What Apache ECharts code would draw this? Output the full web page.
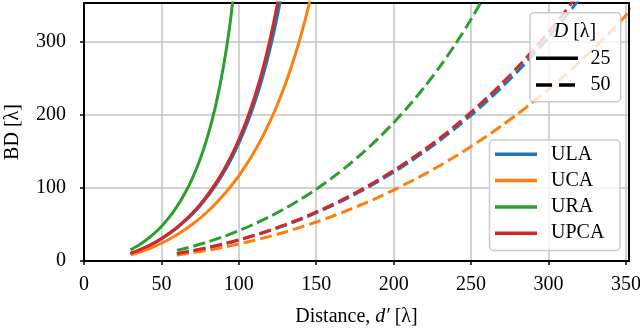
<!DOCTYPE html>
<html>
<head>
<meta charset="utf-8">
<script src="https://cdn.jsdelivr.net/npm/echarts@6/dist/echarts.min.js"></script>
<style>
  html, body { margin: 0; padding: 0; background: #fff; }
  #chart { width: 640px; height: 329px; }
</style>
</head>
<body>
<div id="chart"></div>
<script>
// distances d' [lambda]
var distSolid = [30, 35, 40, 45, 50, 55, 60, 65, 70, 75, 80, 85, 90, 95, 100, 105, 110, 115, 120, 125, 130, 135, 140, 145, 150];
var distDashed = [60, 70, 80, 90, 100, 110, 120, 130, 140, 150, 160, 170, 180, 190, 200, 210, 220, 230, 240, 250, 260, 270, 280, 290, 300, 310, 320, 330, 340, 350, 360];

// BD [lambda], D = 25
var ulaSolid = [10.3, 14.2, 18.7, 24.0, 30.1, 37.1, 45.1, 54.1, 64.2, 75.7, 88.8, 103.5, 120.2, 139.3, 161.1, 186.1, 215.1, 249.0, 288.8, 336.4, 393.9];
var ucaSolid = [8.4, 11.6, 15.2, 19.5, 24.3, 29.7, 35.8, 42.7, 50.3, 58.7, 68.1, 78.4, 89.9, 102.6, 116.6, 132.2, 149.5, 168.8, 190.4, 214.5, 241.8, 272.6, 307.7, 348.0, 394.6];
var uraSolid = [15.2, 21.1, 28.4, 37.0, 47.3, 59.6, 74.3, 91.9, 113.2, 139.2, 171.5, 212.3, 265.1, 335.8, 435.0];
var upcaSolid = [10.5, 14.4, 19.1, 24.5, 30.7, 37.9, 46.0, 55.2, 65.7, 77.5, 91.0, 106.2, 123.6, 143.4, 166.2, 192.5, 223.0, 259.0, 301.6, 352.8, 415.4];

// BD [lambda], D = 50
var ulaDashed = [10.1, 13.8, 18.1, 23.0, 28.6, 34.7, 41.5, 48.9, 57.1, 65.9, 75.4, 85.8, 96.8, 108.7, 121.5, 135.1, 149.7, 165.2, 181.7, 199.4, 218.1, 238.1, 259.3, 281.8, 305.8, 331.4, 358.6];
var ucaDashed = [8.3, 11.3, 14.8, 18.8, 23.3, 28.3, 33.7, 39.7, 46.3, 53.3, 60.9, 69.1, 77.8, 87.1, 97.1, 107.7, 118.9, 130.7, 143.3, 156.6, 170.6, 185.4, 201.1, 217.5, 234.8, 253.0, 272.2, 292.4, 313.7, 336.0, 359.5];
var uraDashed = [14.5, 19.9, 26.1, 33.3, 41.5, 50.6, 60.8, 72.1, 84.6, 98.3, 113.4, 129.9, 148.0, 167.7, 189.2, 212.7, 238.4, 266.4, 297.1, 330.7, 367.5];
var upcaDashed = [10.3, 14.1, 18.4, 23.4, 29.0, 35.3, 42.2, 49.8, 58.1, 67.1, 76.8, 87.3, 98.6, 110.8, 123.8, 137.8, 152.6, 168.5, 185.5, 203.6, 222.8, 243.3, 265.1, 288.3, 313.1, 339.4, 367.5];

var xTicks = [0, 50, 100, 150, 200, 250, 300, 350];
var yTicks = [0, 100, 200, 300];

var arrays = ['ULA', 'UCA', 'URA', 'UPCA'];
var colors = ['#1f77b4', '#ff7f0e', '#2ca02c', '#d62728'];
var solidData = [ulaSolid, ucaSolid, uraSolid, upcaSolid];
var dashedData = [ulaDashed, ucaDashed, uraDashed, upcaDashed];

var FONT = '"Liberation Serif", "DejaVu Serif", serif';
var DASH = [12, 5];

function pairs(xs, ys) {
    return ys.map(function (y, i) { return [xs[i], y]; });
}

var series = [];
arrays.forEach(function (name, k) {
    series.push({
        name: name, type: 'line', showSymbol: false, smooth: 0.3,
        data: pairs(distSolid, solidData[k]),
        lineStyle: { color: colors[k], width: 3 },
        z: 2 + k
    });
    series.push({
        name: name, type: 'line', showSymbol: false, smooth: 0.3,
        data: pairs(distDashed, dashedData[k]),
        lineStyle: { color: colors[k], width: 3, type: DASH },
        z: 2 + k
    });
});

var axisText = { color: '#000', fontFamily: FONT, fontSize: 20 };

// legends drawn by hand (two boxes like the original)
var graphics = [];
var lx = 489.5, ly = 140;
graphics.push({
    type: 'rect', z: 100,
    shape: { x: lx, y: ly, width: 130.5, height: 110.5, r: 4 },
    style: { fill: 'rgba(255,255,255,0.8)', stroke: '#cccccc', lineWidth: 1.5 }
});
arrays.forEach(function (name, k) {
    var yy = 154.3 + k * 26.3;
    graphics.push({
        type: 'line', z: 101,
        shape: { x1: 495, y1: yy, x2: 537, y2: yy },
        style: { stroke: colors[k], lineWidth: 3.5 }
    });
    graphics.push({
        type: 'text', z: 101, x: 551, y: yy,
        style: { text: name, fill: '#000', font: '20px ' + FONT, verticalAlign: 'middle' }
    });
});

graphics.push({
    type: 'rect', z: 100,
    shape: { x: 530, y: 12.7, width: 90.7, height: 89, r: 4 },
    style: { fill: 'rgba(255,255,255,0.8)', stroke: '#cccccc', lineWidth: 1.5 }
});
graphics.push({
    type: 'text', z: 101, x: 575, y: 32,
    style: {
        text: '{i|D} [λ]', fill: '#000', font: '20px ' + FONT,
        align: 'center', verticalAlign: 'middle',
        rich: { i: { fontStyle: 'italic', fontFamily: FONT, fontSize: 20 } }
    }
});
[['25', null, 58.3], ['50', [16, 7], 85]].forEach(function (e) {
    graphics.push({
        type: 'line', z: 101,
        shape: { x1: 536, y1: e[2], x2: 578, y2: e[2] },
        style: { stroke: '#000', lineWidth: 3.5, lineDash: e[1] }
    });
    graphics.push({
        type: 'text', z: 101, x: 590.5, y: e[2],
        style: { text: e[0], fill: '#000', font: '20px ' + FONT, verticalAlign: 'middle' }
    });
});

var chart = echarts.init(document.getElementById('chart'), null, { renderer: 'canvas' });
chart.setOption({
    animation: false,
    backgroundColor: '#fff',
    grid: { left: 84, right: 11, top: 3, bottom: 68, containLabel: false, outerBoundsMode: 'none' },
    xAxis: [{
        type: 'value', min: 0, max: 352, interval: 50,
        name: '{a|Distance, }{i|d′}{a| [λ]}',
        nameLocation: 'middle', nameGap: 46,
        nameTextStyle: {
            rich: {
                a: { fontFamily: FONT, fontSize: 20, color: '#000' },
                i: { fontFamily: FONT, fontSize: 20, color: '#000', fontStyle: 'italic' }
            }
        },
        axisLine: { show: true, lineStyle: { color: '#000', width: 2 } },
        axisTick: { show: true, inside: false, length: 4, lineStyle: { color: '#000', width: 1.5 }, customValues: xTicks },
        axisLabel: Object.assign({ margin: 14, customValues: xTicks }, axisText),
        splitLine: { show: true, lineStyle: { color: '#c4c4c4', width: 1.5 } }
    }, {
        type: 'value', min: 0, max: 352, position: 'top',
        axisLine: { show: true, onZero: false, lineStyle: { color: '#000', width: 2 } },
        axisTick: { show: false }, axisLabel: { show: false }, splitLine: { show: false }
    }],
    yAxis: [{
        type: 'value', min: 0, max: 353, interval: 100,
        name: 'BD [λ]', nameLocation: 'middle', nameGap: 61,
        nameTextStyle: { fontFamily: FONT, fontSize: 20, color: '#000' },
        axisLine: { show: true, lineStyle: { color: '#000', width: 2 } },
        axisTick: { show: true, inside: false, length: 4, lineStyle: { color: '#000', width: 1.5 }, customValues: yTicks },
        axisLabel: Object.assign({ margin: 18, customValues: yTicks }, axisText),
        splitLine: { show: true, lineStyle: { color: '#c4c4c4', width: 1.5 } }
    }, {
        type: 'value', min: 0, max: 353, position: 'right',
        axisLine: { show: true, onZero: false, lineStyle: { color: '#000', width: 2 } },
        axisTick: { show: false }, axisLabel: { show: false }, splitLine: { show: false }
    }],
    series: series,
    graphic: graphics
});
</script>
</body>
</html>
